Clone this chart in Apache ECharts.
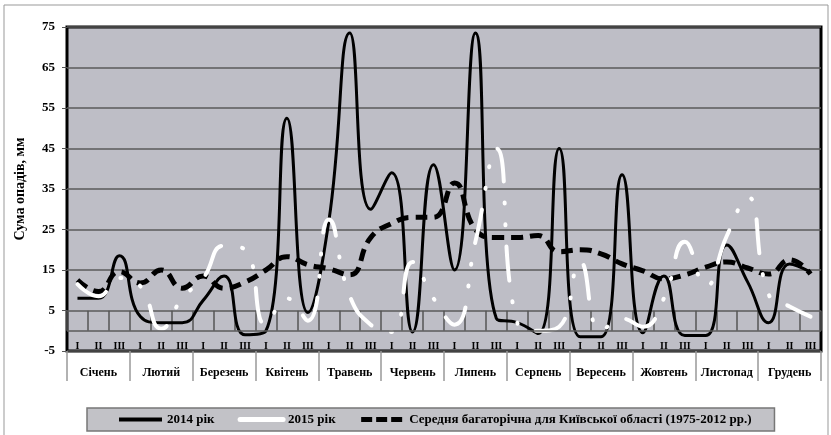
<!DOCTYPE html>
<html>
<head>
<meta charset="utf-8">
<script src="https://cdn.jsdelivr.net/npm/echarts@6/dist/echarts.min.js"></script>
<style>
html,body{margin:0;padding:0;background:#fff;}
#chart{width:831px;height:435px;}
</style>
</head>
<body>
<div id="chart"></div>
<script>
var months = ['Січень','Лютий','Березень','Квітень','Травень','Червень','Липень','Серпень','Вересень','Жовтень','Листопад','Грудень'];
var decadeNames = ['I','II','III'];
var yTicks = {min: -5, max: 75, interval: 10};
var rain2014 = [8, 8, 18.5, 3.5, 2, 2, 7.5, 13.5, -1, 0, 52.5, 4.5, 27, 73.5, 30, 39, -0.3, 41, 15, 73.5, 3, 2, -0.7, 45, -1.5, -1.5, 38.5, -0.5, 13.5, -1.2, -1.2, 21.2, 12, 2, 16.5, 14.5];
var rain2015 = [11.5, 8.5, 13, 11, 0.5, 8, 13, 21, 20, 1.5, 8, 2.5, 27.5, 8.6, 1.5, -0.3, 17, 8, 1.5, 22, 45, 2, 0, 1, 17, 0, 3, 1, 8, 22, 11, 23.4, 33, 9, 6, 3.5];
var rainAvg = [12.5, 9.7, 14.6, 11.8, 15, 10.5, 13.5, 10.5, 12, 15, 18.3, 16.3, 15.3, 13.8, 23, 26.5, 28, 28, 36.5, 25, 23, 23, 23.5, 19.5, 20, 19, 16.5, 14.8, 12.8, 13.8, 15.7, 17, 15.5, 14, 17.5, 14];
var seriesNames = ['2014 рік', '2015 рік', 'Середня багаторічна для Київської області (1975-2012 рр.)'];

var decades = [];
months.forEach(function(m){ decadeNames.forEach(function(d){ decades.push(d); }); });

var serif = '"Liberation Serif", "DejaVu Serif", serif';
var chart = echarts.init(document.getElementById('chart'));
chart.setOption({
  animation: false,
  backgroundColor: '#fff',
  graphic: [{
    type: 'rect', silent: true, z: -10,
    shape: {x: 4, y: 5, width: 824, height: 432},
    style: {fill: 'none', stroke: '#999', lineWidth: 1}
  }],
  grid: {
    left: 67, right: 10, top: 27, bottom: 84,
    show: true, backgroundColor: '#bebec6', borderColor: '#000', borderWidth: 3
  },
  legend: {
    left: 87, top: 408,
    backgroundColor: '#c2c2c7', borderColor: '#777', borderWidth: 1.5,
    padding: [5, 23, 5, 30],
    itemWidth: 43, itemHeight: 12, itemGap: 23,
    itemStyle: {opacity: 0},
    textStyle: {fontFamily: serif, fontWeight: 'bold', fontSize: 13, color: '#000'},
    data: [
      {name: seriesNames[0], itemStyle: {opacity: 0}, lineStyle: {width: 4}},
      {name: seriesNames[1], itemStyle: {opacity: 0}, lineStyle: {type: 'solid', width: 5}},
      {name: seriesNames[2], itemStyle: {opacity: 0}, lineStyle: {type: [11, 4], width: 5}}
    ]
  },
  xAxis: [{
    type: 'category', data: decades, position: 'bottom',
    axisLine: {show: false},
    axisTick: {show: true, inside: true, length: 20, lineStyle: {color: '#555', width: 1.5}},
    axisLabel: {inside: true, interval: 0, margin: 0, fontFamily: serif, fontWeight: 'bold', fontSize: 10, color: '#000'},
    splitLine: {show: false}
  }, {
    type: 'category', data: months, position: 'bottom',
    axisLine: {show: false},
    axisTick: {show: true, length: 30, lineStyle: {color: '#999', width: 1.5}},
    axisLabel: {interval: 0, margin: 16, fontFamily: serif, fontWeight: 'bold', fontSize: 12, color: '#000'},
    splitLine: {show: false}
  }],
  yAxis: {
    type: 'value', min: yTicks.min, max: yTicks.max, interval: yTicks.interval,
    name: 'Сума опадів, мм', nameLocation: 'middle', nameGap: 40, nameRotate: 90,
    nameTextStyle: {fontFamily: serif, fontWeight: 'bold', fontSize: 14, color: '#000'},
    axisLine: {show: false},
    axisTick: {show: true, length: 5, lineStyle: {color: '#555'}},
    axisLabel: {margin: 12, fontFamily: serif, fontWeight: 'bold', fontSize: 13, color: '#000'},
    splitLine: {show: true, lineStyle: {color: '#5a5a5a', width: 1.5}}
  },
  series: [{
    name: seriesNames[0], type: 'line', data: rain2014, smooth: 0.5,
    symbol: 'none', z: 3,
    lineStyle: {color: '#000', width: 3},
    itemStyle: {color: '#000'},
    markLine: {
      silent: true, symbol: 'none', label: {show: false},
      lineStyle: {color: '#5a5a5a', width: 1.5, type: 'solid'},
      data: [{yAxis: 0}]
    }
  }, {
    name: seriesNames[1], type: 'line', data: rain2015, smooth: 0.5,
    symbol: 'none', z: 4,
    lineStyle: {color: '#fff', width: 4, type: [34, 21, 1, 21, 1, 21], cap: 'round'},
    itemStyle: {color: '#fff'}
  }, {
    name: seriesNames[2], type: 'line', data: rainAvg, smooth: 0.5,
    symbol: 'none', z: 2,
    lineStyle: {color: '#000', width: 5, type: [12, 7]},
    itemStyle: {color: '#000'}
  }]
});
</script>
</body>
</html>
